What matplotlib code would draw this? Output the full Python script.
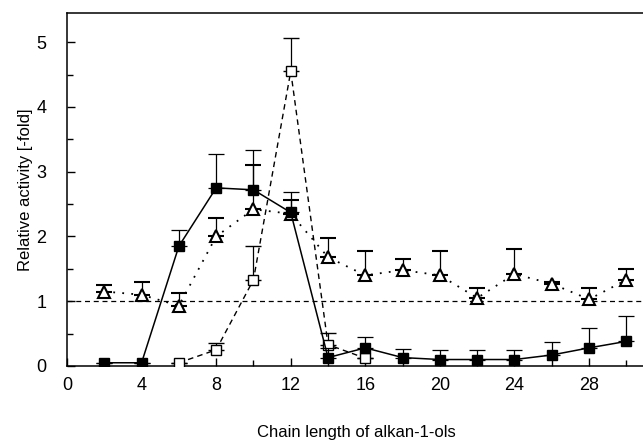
import matplotlib
matplotlib.use("Agg")
import matplotlib.pyplot as plt
from matplotlib.ticker import MultipleLocator

plt.rcParams['font.family'] = ['Liberation Sans', 'DejaVu Sans']

# chain lengths
x_all = [2, 4, 6, 8, 10, 12, 14, 16, 18, 20, 22, 24, 26, 28, 30]

# filled squares (solid line)
filled_y = [0.05, 0.05, 1.85, 2.75, 2.72, 2.37, 0.13, 0.28, 0.13, 0.10, 0.10, 0.10, 0.17, 0.28, 0.38]
filled_err = [0.0, 0.0, 0.25, 0.52, 0.62, 0.32, 0.15, 0.17, 0.14, 0.15, 0.15, 0.15, 0.20, 0.30, 0.39]

# open squares (dashed line)
open_x = [6, 8, 10, 12, 14, 16]
open_y = [0.05, 0.25, 1.33, 4.55, 0.33, 0.12]
open_err = [0.0, 0.10, 0.52, 0.52, 0.18, 0.0]

# triangles (dotted line)
tri_y = [1.15, 1.10, 0.93, 2.00, 2.42, 2.35, 1.68, 1.40, 1.48, 1.40, 1.05, 1.42, 1.27, 1.03, 1.33]
tri_err = [0.10, 0.20, 0.19, 0.28, 0.68, 0.22, 0.29, 0.37, 0.17, 0.38, 0.15, 0.38, 0.03, 0.17, 0.17]

fig = plt.figure(figsize=(6.43, 4.46), dpi=100)
ax = fig.add_axes([67 / 643, 80 / 446, 578 / 643, 353 / 446])

ax.axhline(1.0, color='black', linestyle=(0, (4, 3)), linewidth=0.9, zorder=1)

ax.errorbar(x_all, tri_y, yerr=[[0] * len(tri_err), tri_err], color='black',
            linestyle=(0, (1, 4)), linewidth=1.3, marker='^', markersize=8.5,
            markerfacecolor='white', markeredgecolor='black', markeredgewidth=1.5,
            ecolor='black', elinewidth=0.9, capsize=6, capthick=0.9, zorder=3)

ax.errorbar(open_x, open_y, yerr=[[0] * len(open_err), open_err], color='black',
            linestyle=(0, (4, 3)), linewidth=1.0, marker='s', markersize=7,
            markerfacecolor='white', markeredgecolor='black', markeredgewidth=1.0,
            ecolor='black', elinewidth=0.9, capsize=6, capthick=0.9, zorder=4)

ax.errorbar(x_all, filled_y, yerr=[[0] * len(filled_err), filled_err], color='black',
            linestyle='-', linewidth=1.1, marker='s', markersize=7.5,
            markerfacecolor='black', markeredgecolor='black',
            ecolor='black', elinewidth=0.9, capsize=6, capthick=0.9, zorder=5)

ax.set_xlim(0, 31)
ax.set_ylim(0, 5.45)
ax.xaxis.set_major_locator(MultipleLocator(4))
ax.xaxis.set_minor_locator(MultipleLocator(2))
ax.yaxis.set_major_locator(MultipleLocator(1))
ax.yaxis.set_minor_locator(MultipleLocator(0.5))
ax.tick_params(which='both', direction='in', top=False, right=False, labelsize=13)
ax.tick_params(which='major', length=6, width=1)
ax.tick_params(which='minor', length=4, width=1)
ax.tick_params(axis='x', pad=8)
ax.tick_params(axis='y', pad=15)

for s in ax.spines.values():
    s.set_linewidth(1.1)

ax.set_xlabel("Chain length of alkan-1-ols", fontsize=12, labelpad=22)
ax.set_ylabel("Relative activity [-fold]", fontsize=12, labelpad=2)

fig.savefig("out.png", dpi=100)
